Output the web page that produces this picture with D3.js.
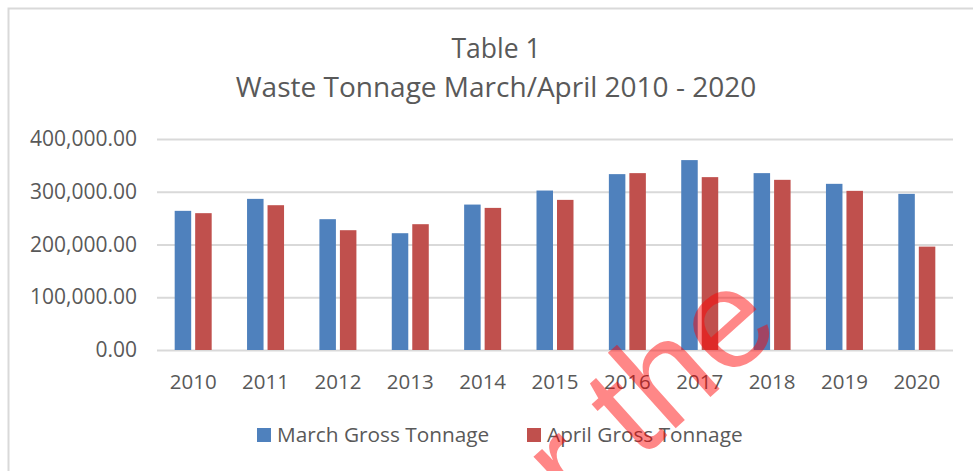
<!DOCTYPE html>
<html>
<head>
<meta charset="utf-8">
<script src="https://cdn.jsdelivr.net/npm/d3@7"></script>
<style>
  body { margin: 0; background: #fff; }
  svg text { font-family: "Open Sans", sans-serif; }
</style>
</head>
<body>
<div id="vis-tag"></div>
<script>
// data
const years = ["2010", "2011", "2012", "2013", "2014", "2015", "2016", "2017", "2018", "2019", "2020"];
const seriesNames = ["March Gross Tonnage", "April Gross Tonnage"];
const marchTonnage = [263800, 286500, 248000, 221400, 275700, 302300, 333400, 360000, 335300, 315000, 296000];
const aprilTonnage = [259400, 274500, 227100, 238500, 269400, 284600, 335300, 327700, 322600, 301700, 196000];
const yTicks = [0, 100000, 200000, 300000, 400000];
const titleLines = ["Table 1", "Waste Tonnage March/April 2010 - 2020"];

const width = 973;
const height = 471;
const margin = { top: 139, right: 20, bottom: 121, left: 157 };
const colors = ["#4F81BD", "#C0504D"];
const textColor = "#595959";

const svg = d3.select("#vis-tag")
  .append("svg")
  .attr("width", width)
  .attr("height", height);

// chart area border
svg.append("rect")
  .attr("x", 8.5).attr("y", 8.5)
  .attr("width", width + 10).attr("height", height + 10)
  .attr("fill", "none")
  .attr("stroke", "#d9d9d9")
  .attr("stroke-width", 2);

// title
svg.append("text")
  .attr("x", 496).attr("y", 58)
  .attr("text-anchor", "middle")
  .attr("fill", textColor)
  .style("font-size", "26.5px")
  .text(titleLines[0]);
svg.append("text")
  .attr("x", 496).attr("y", 97)
  .attr("text-anchor", "middle")
  .attr("fill", textColor)
  .style("font-size", "28px")
  .text(titleLines[1]);

// scales
const x0 = d3.scaleBand()
  .domain(years)
  .range([margin.left, width - margin.right])
  .padding(0);

const groupW = 37;
const x1 = d3.scaleBand()
  .domain(seriesNames)
  .range([0, groupW])
  .paddingInner(0.195);

const y = d3.scaleLinear()
  .domain([0, 400000])
  .range([height - margin.bottom, margin.top]);

// gridlines
svg.append("g")
  .attr("transform", `translate(${margin.left},0)`)
  .call(d3.axisLeft(y).tickValues(yTicks).tickSize(-(width - margin.right - margin.left)).tickFormat(""))
  .call(g => g.select(".domain").remove())
  .call(g => g.selectAll("line").attr("stroke", "#d9d9d9").attr("stroke-width", 2));

// y axis labels
svg.append("g")
  .attr("transform", `translate(137,0)`)
  .call(d3.axisLeft(y).tickValues(yTicks).tickSize(0).tickPadding(0).tickFormat(d3.format(",.2f")))
  .call(g => g.select(".domain").remove())
  .call(g => g.selectAll("text")
    .attr("fill", textColor)
    .style("font-size", "21px")
    .style("font-family", "'Open Sans', sans-serif"));

// bars
const rows = years.map((yr, i) => ({ year: yr, values: [marchTonnage[i], aprilTonnage[i]] }));

const groups = svg.append("g")
  .selectAll("g")
  .data(rows)
  .enter()
  .append("g")
  .attr("transform", d => `translate(${x0(d.year) + (x0.bandwidth() - groupW) / 2},0)`);

groups.selectAll("rect")
  .data(d => d.values.map((v, k) => ({ key: seriesNames[k], value: v, k: k })))
  .enter()
  .append("rect")
  .attr("x", d => x1(d.key))
  .attr("y", d => y(d.value))
  .attr("width", x1.bandwidth())
  .attr("height", d => y(0) - y(d.value))
  .attr("fill", d => colors[d.k]);

// x axis labels
svg.append("g")
  .attr("transform", `translate(0,${y(0)})`)
  .call(d3.axisBottom(x0).tickSize(0).tickPadding(24))
  .call(g => g.select(".domain").remove())
  .call(g => g.selectAll("text")
    .attr("fill", textColor)
    .style("font-size", "20.5px")
    .style("font-family", "'Open Sans', sans-serif"));

// legend
const legendX = [257, 527];
const legend = svg.append("g");
seriesNames.forEach((name, i) => {
  legend.append("rect")
    .attr("x", legendX[i]).attr("y", 428)
    .attr("width", 14).attr("height", 14)
    .attr("fill", colors[i]);
  legend.append("text")
    .attr("x", legendX[i] + 20).attr("y", 442)
    .attr("fill", textColor)
    .style("font-size", "20.8px")
    .text(name);
});

// watermark over the picture
svg.append("text")
  .attr("transform", "translate(576,518) rotate(-42)")
  .attr("fill", "rgba(255,0,0,0.47)")
  .style("font-family", "'Liberation Sans', Arial, sans-serif")
  .style("font-size", "140px")
  .text("r the");
</script>
</body>
</html>
